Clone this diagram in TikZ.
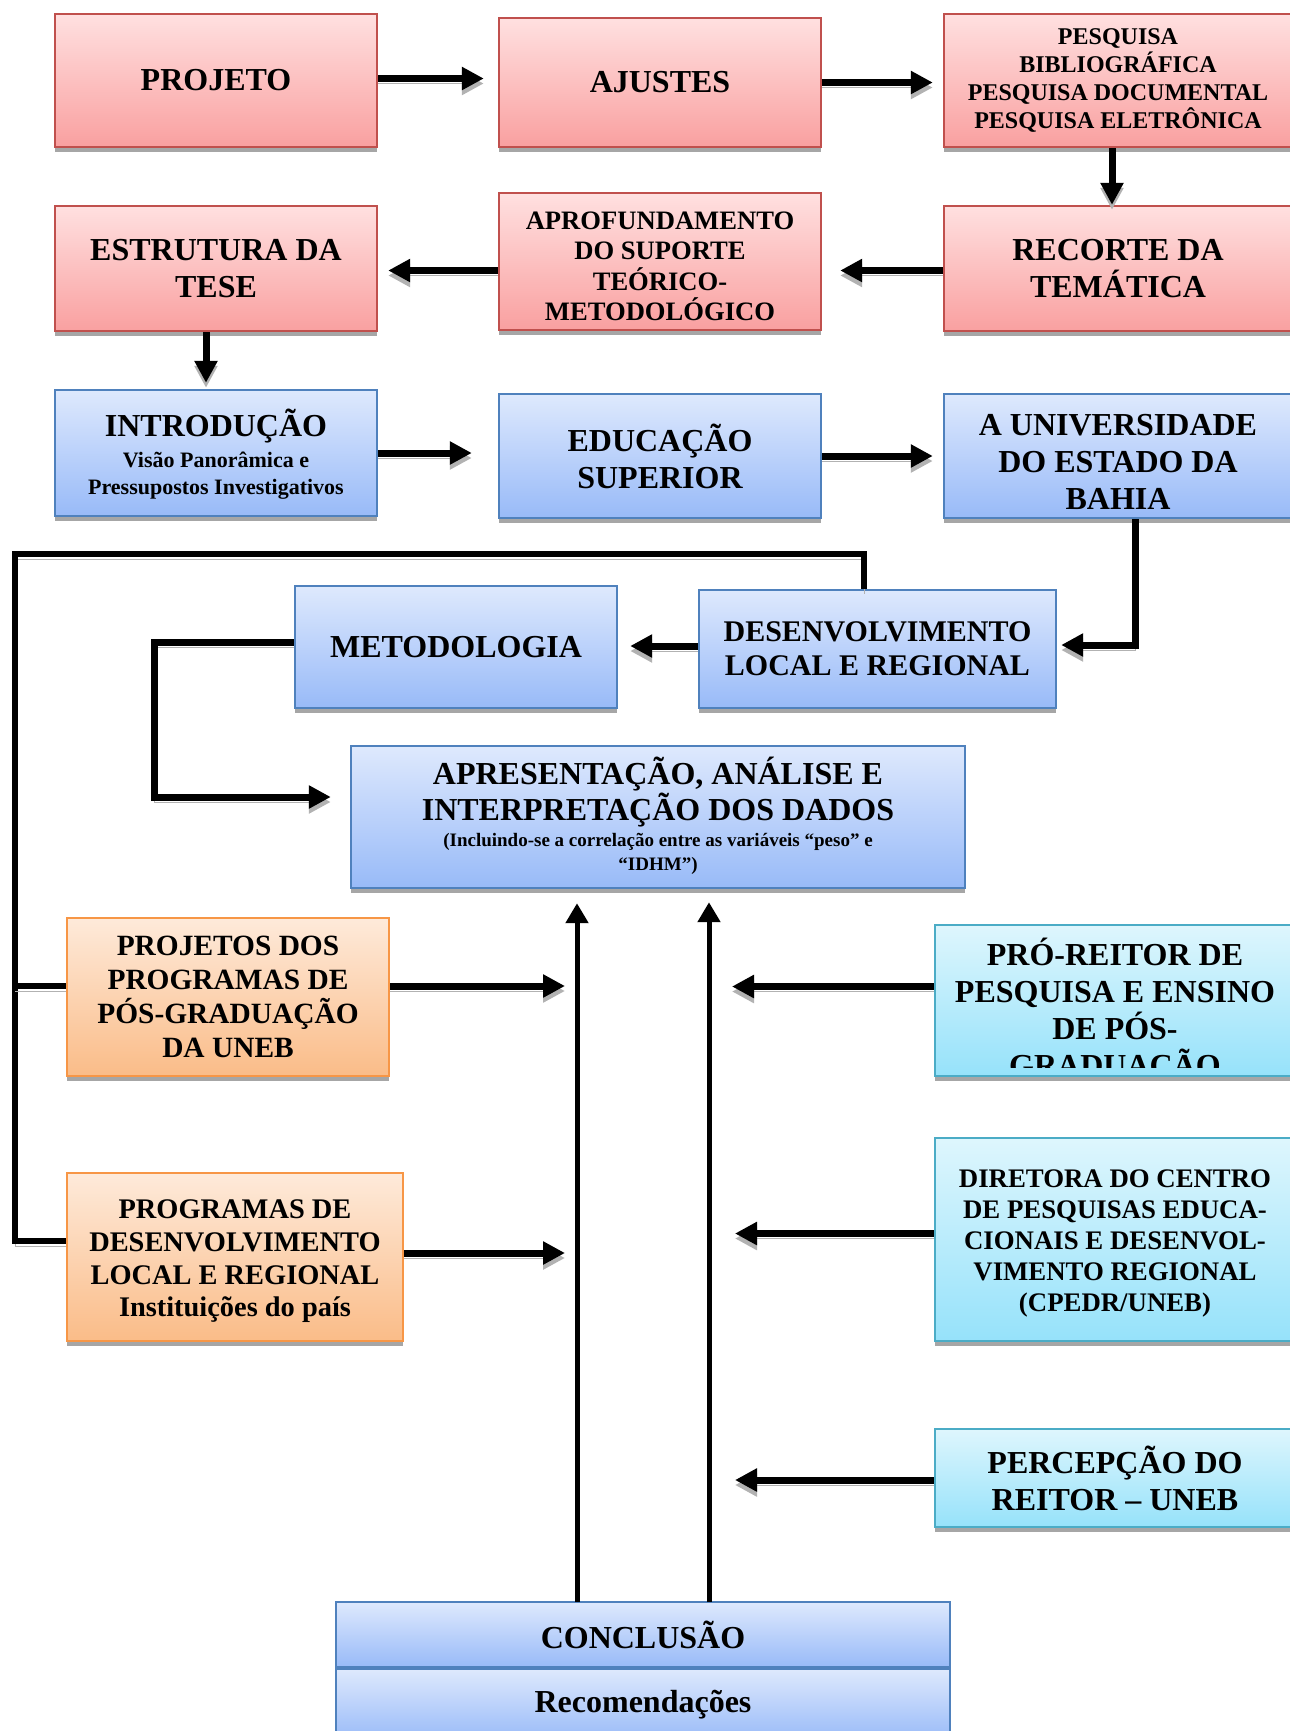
\documentclass[tikz,border=0pt]{standalone}
\usepackage{fontspec}
\setmainfont{Liberation Serif}
\usetikzlibrary{arrows.meta, shadows}

\definecolor{redtop}{RGB}{255,224,224}
\definecolor{redbot}{RGB}{249,160,160}
\definecolor{redline}{RGB}{192,80,77}
\definecolor{bluetop}{RGB}{222,233,253}
\definecolor{bluebot}{RGB}{152,186,248}
\definecolor{blueline}{RGB}{79,129,189}
\definecolor{orangetop}{RGB}{254,234,218}
\definecolor{orangebot}{RGB}{250,188,136}
\definecolor{orangeline}{RGB}{247,150,70}
\definecolor{cyantop}{RGB}{222,246,253}
\definecolor{cyanbot}{RGB}{150,226,250}
\definecolor{cyanline}{RGB}{75,172,198}

\newcommand{\sublines}[3]{{\fontsize{#1}{#2}\selectfont\begin{tabular}[t]{@{}c@{}}#3\end{tabular}}}

\begin{document}
\begin{tikzpicture}[x=0.5pt,y=-0.5pt,
  box/.style={draw, line width=1.2pt, align=center, inner sep=2pt,
    drop shadow={shadow xshift=0pt, shadow yshift=-2.5pt, fill=black!35, opacity=1}},
  redbox/.style={box, draw=redline, top color=redtop, bottom color=redbot},
  bluebox/.style={box, draw=blueline, top color=bluetop, bottom color=bluebot},
  orangebox/.style={box, draw=orangeline, top color=orangetop, bottom color=orangebot},
  cyanbox/.style={box, draw=cyanline, top color=cyantop, bottom color=cyanbot},
  big/.style={font=\bfseries\fontsize{16}{18.5}\selectfont},
  mid/.style={font=\bfseries\fontsize{15}{17}\selectfont},
  small/.style={font=\bfseries\fontsize{12}{14}\selectfont},
  arr/.style={line width=3.5pt, -{Triangle[length=11pt,width=11pt]},
    preaction={draw=black!30, transform canvas={yshift=-2.5pt}}},
  thinarr/.style={line width=2.5pt, -{Triangle[length=10pt,width=11pt]}},
  link/.style={line width=3.3pt, preaction={draw=black!30, transform canvas={yshift=-2.5pt}}}]
\useasboundingbox (0,0) rectangle (1290,1731);

\node (projeto) [redbox, big, minimum width=161pt, minimum height=66.5pt] at (216,80.5) {PROJETO};
\node (ajustes) [redbox, big, minimum width=161pt, minimum height=64.5pt] at (660,82.5) {AJUSTES};
\node (pesquisa) [redbox, small, minimum width=174pt, minimum height=66.5pt] at (1118,80.5)
  {PESQUISA\\BIBLIOGRÁFICA\\PESQUISA DOCUMENTAL\\PESQUISA ELETRÔNICA};
\node (estrutura) [redbox, big, minimum width=161pt, minimum height=62.5pt] at (216,268.5) {ESTRUTURA DA\\TESE};
\node (aprof) [redbox, font=\bfseries\fontsize{13.3}{15.2}\selectfont, minimum width=161pt, minimum height=68.5pt] at (660,261.5)
  {\rule{0pt}{13.5pt}APROFUNDAMENTO\\DO SUPORTE\\TEÓRICO-\\METODOLÓGICO};
\node (recorte) [redbox, big, minimum width=174pt, minimum height=62.5pt] at (1118,268.5) {RECORTE DA\\TEMÁTICA};

\node (intro) [bluebox, big, minimum width=161pt, minimum height=63pt] at (216,453)
  {\rule{0pt}{17pt}INTRODUÇÃO\\[-3.3pt]\sublines{11}{13.8}{Visão Panorâmica e\\Pressupostos Investigativos}};
\node (educ) [bluebox, big, minimum width=161pt, minimum height=62pt] at (660,456) {EDUCAÇÃO\\SUPERIOR};
\node (univ) [bluebox, big, minimum width=174pt, minimum height=62pt] at (1118,456) {\rule{0pt}{16.5pt}A UNIVERSIDADE\\DO ESTADO DA\\BAHIA};
\node (metod) [bluebox, big, minimum width=161pt, minimum height=61pt] at (456,647) {METODOLOGIA};
\node (desenv) [bluebox, mid, minimum width=178.5pt, minimum height=59pt] at (877.5,649) {DESENVOLVIMENTO\\LOCAL E REGIONAL};
\node (apres) [bluebox, font=\bfseries\fontsize{16}{18}\selectfont, minimum width=307pt, minimum height=71pt] at (658,817)
  {APRESENTAÇÃO, ANÁLISE E\\INTERPRETAÇÃO DOS DADOS\\[-5pt]\sublines{9.5}{12}{(Incluindo-se a correlação entre as variáveis “peso” e\\“IDHM”)}};

\node (projetos) [orangebox, font=\bfseries\fontsize{14.7}{17}\selectfont, minimum width=161pt, minimum height=79pt] at (228,997)
  {PROJETOS DOS\\PROGRAMAS DE\\PÓS-GRADUAÇÃO\\DA UNEB};
\node (programas) [orangebox, font=\bfseries\fontsize{14.2}{16.4}\selectfont, minimum width=168pt, minimum height=84pt] at (235,1257)
  {\rule{0pt}{13.8pt}PROGRAMAS DE\\DESENVOLVIMENTO\\LOCAL E REGIONAL\\Instituições do país};

\node (proreitor) [cyanbox, minimum width=180pt, minimum height=75.5pt] at (1115,1000.5) {};
\begin{scope}
\clip (proreitor.north west) rectangle ([yshift=5pt]proreitor.south east);
\node (proreitortxt) [big, align=center, inner sep=0pt, anchor=north] at ([yshift=-7pt]proreitor.north)
  {PRÓ-REITOR DE\\PESQUISA E ENSINO\\DE PÓS-\\GRADUAÇÃO};
\end{scope}
\node (diretora) [cyanbox, font=\bfseries\fontsize{13.4}{15.5}\selectfont, minimum width=180pt, minimum height=101.5pt] at (1115,1239.5)
  {\rule{0pt}{13.2pt}DIRETORA DO CENTRO\\DE PESQUISAS EDUCA-\\CIONAIS E DESENVOL-\\VIMENTO REGIONAL\\(CPEDR/UNEB)};
\node (percepcao) [cyanbox, big, minimum width=180pt, minimum height=49pt] at (1115,1478) {PERCEPÇÃO DO\\REITOR – UNEB};

\node (conclusao) [bluebox, big, minimum width=307pt, minimum height=32.5pt] at (643,1634.5) {CONCLUSÃO};
\node (recomend) [bluebox, big, minimum width=307pt, minimum height=36pt] at (643,1705) {Recomendações};

\coordinate (leftline) at (577,1602);
\coordinate (rightline) at (709,1602);
\coordinate (topleft) at (15,554);

\draw[arr, shorten >=7pt] ([yshift=1pt]projeto.east) -- ([yshift=1pt]projeto.east -| ajustes.west);
\draw[arr, shorten >=5pt] (ajustes.east) -- (ajustes.east -| pesquisa.west);
\draw[arr] ([xshift=-3pt]pesquisa.south) -- ([xshift=-3pt]recorte.north);
\draw[arr, shorten >=9pt] ([yshift=-1pt]recorte.west) -- ([yshift=-1pt]recorte.west -| aprof.east);
\draw[arr, shorten >=5pt] ([yshift=-1pt]aprof.west |- estrutura.east) -- ([yshift=-1pt]estrutura.east);
\draw[arr, shorten >=3pt] ([xshift=-5pt]estrutura.south) -- ([xshift=-5pt]intro.north);
\draw[arr, shorten >=13pt] (intro.east) -- (intro.east -| educ.west);
\draw[arr, shorten >=5pt] (educ.east) -- (univ.west);
\draw[arr, shorten >=2pt] ([xshift=8.5pt]univ.south) |- ([yshift=2pt]desenv.east);
\draw[arr, shorten >=6pt] ([yshift=1.5pt]desenv.west) -- ([yshift=1.5pt]desenv.west -| metod.east);
\draw[arr, shorten >=9.5pt] ([yshift=2.5pt]metod.west) -- ++(-139,0) |- ([yshift=10pt]apres.west);
\draw[link] ([xshift=-6.75pt]desenv.north) |- (topleft) |- ([yshift=8pt]programas.west);
\draw[link] (topleft |- projetos.west) ++(0,-11) -- ([yshift=5.5pt]projetos.west);

\draw[thinarr, shorten >=7pt] (leftline) -- (leftline |- apres.south);
\draw[thinarr, shorten >=6.5pt] (rightline) -- (rightline |- apres.south);

\draw[arr, shorten >=6pt] ([yshift=5.5pt]projetos.east) -- ([yshift=5.5pt]projetos.east -| leftline);
\draw[arr, shorten >=6pt] ([yshift=2pt]programas.east) -- ([yshift=2pt]programas.east -| leftline);
\draw[arr, shorten >=11.5pt] ([yshift=7pt]proreitor.west) -- ([yshift=7pt]proreitor.west -| rightline);
\draw[arr, shorten >=13pt] ([yshift=3pt]diretora.west) -- ([yshift=3pt]diretora.west -| rightline);
\draw[arr, shorten >=13pt] ([yshift=-1pt]percepcao.west) -- ([yshift=-1pt]percepcao.west -| rightline);
\end{tikzpicture}
\end{document}
